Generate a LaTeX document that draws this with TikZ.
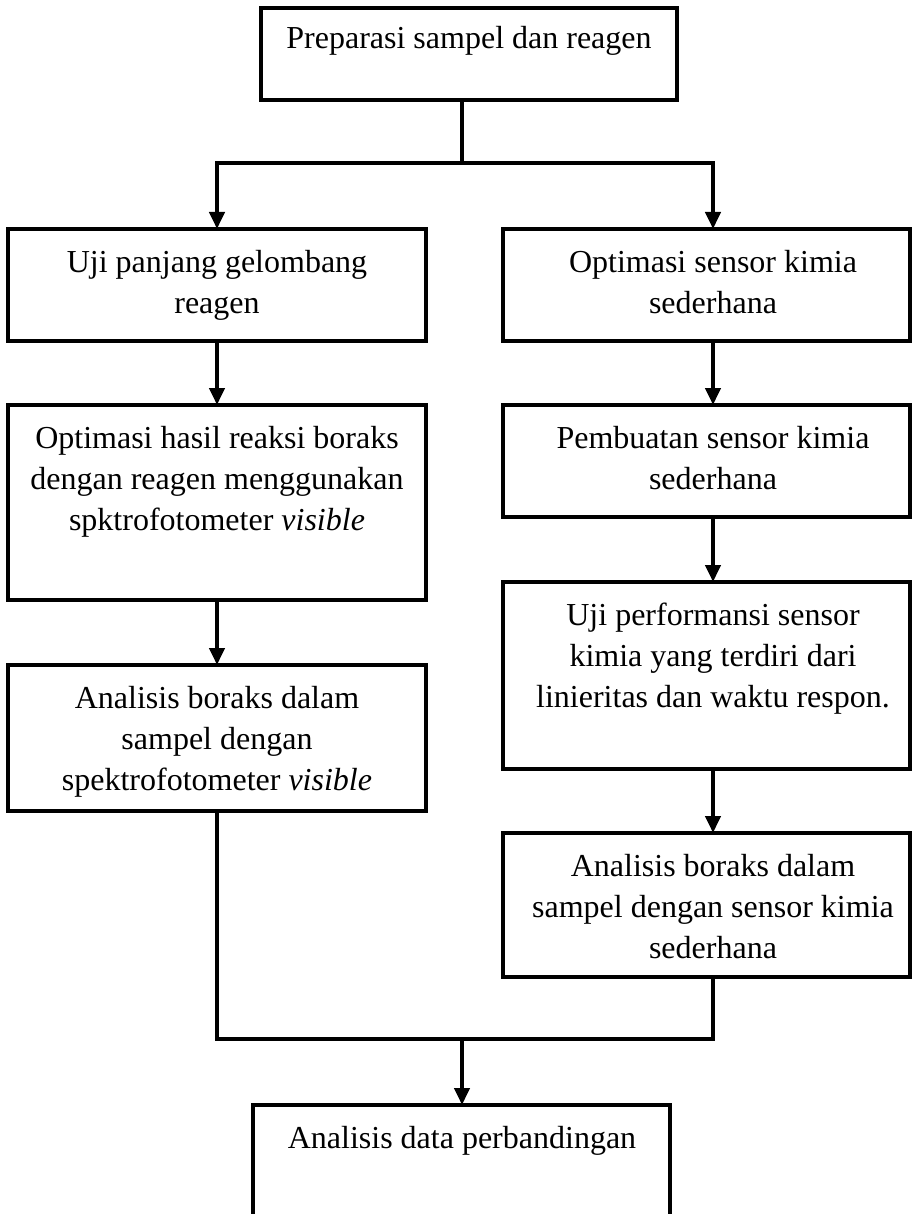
\documentclass[tikz,border=0pt]{standalone}
\usepackage{fontspec}
\setmainfont{Liberation Serif}
\usetikzlibrary{arrows.meta,calc}
\begin{document}
\begin{tikzpicture}[x=1pt,y=-1pt,
  box/.style={draw, line width=4pt, inner sep=0pt, outer sep=0pt, anchor=north west},
  txt/.style={anchor=north, inner sep=0pt, align=center, font=\fontsize{32}{41}\selectfont},
  ln/.style={line width=4pt},
  arr/.style={line width=4pt, -{Triangle[width=15pt,length=17pt]}},
  arrb/.style={line width=4pt, {Triangle[width=15pt,length=17pt]}-{Triangle[width=15pt,length=17pt]}}
]
\useasboundingbox (0,0) rectangle (912,1214);
\clip (0,0) rectangle (912,1214);
\fill[white] (0,0) rectangle (912,1214);

% boxes
\node[box, minimum width=416pt, minimum height=92pt] (T) at (261,8) {};
\node[box, minimum width=418pt, minimum height=112pt] (L1) at (8,229) {};
\node[box, minimum width=418pt, minimum height=195pt] (L2) at (8,405) {};
\node[box, minimum width=418pt, minimum height=146pt] (L3) at (8,665) {};
\node[box, minimum width=407pt, minimum height=112pt] (R1) at (503,229) {};
\node[box, minimum width=407pt, minimum height=112pt] (R2) at (503,405) {};
\node[box, minimum width=407pt, minimum height=187pt] (R3) at (503,582) {};
\node[box, minimum width=407pt, minimum height=144pt] (R4) at (503,833) {};
\node[box, minimum width=417pt, minimum height=140pt] (B) at (253,1105) {};

% texts
\node[txt] (Tt) at (469,20) {\strut Preparasi sampel dan reagen};
\node[txt] (L1t) at (217,244) {\strut Uji panjang gelombang\\reagen};
\node[txt] (L2t) at (217,420) {\strut Optimasi hasil reaksi boraks\\dengan reagen menggunakan\\spktrofotometer \textit{visible}};
\node[txt] (L3t) at (217,680) {\strut Analisis boraks dalam\\sampel dengan\\spektrofotometer \textit{visible}};
\node[txt] (R1t) at (713,244) {\strut Optimasi sensor kimia\\sederhana};
\node[txt] (R2t) at (713,420) {\strut Pembuatan sensor kimia\\sederhana};
\node[txt] (R3t) at (713,597) {\strut Uji performansi sensor\\kimia yang terdiri dari\\linieritas dan waktu respon.};
\node[txt] (R4t) at (713,848) {\strut Analisis boraks dalam\\sampel dengan sensor kimia\\sederhana};
\node[txt] (Bt) at (462,1120) {\strut Analisis data perbandingan};

% connectors
\coordinate (sp) at (462,163);
\coordinate (rx) at (713,0);
\coordinate (mg) at (462,1039);
\draw[ln] (T.south -| sp) -- (sp);
\draw[arrb] (L1.north) |- (sp) -| (R1.north -| rx);
\draw[arr] (L1.south) -- (L2.north);
\draw[arr] (L2.south) -- (L3.north);
\draw[arr] (R1.south -| rx) -- (R2.north -| rx);
\draw[arr] (R2.south -| rx) -- (R3.north -| rx);
\draw[arr] (R3.south -| rx) -- (R4.north -| rx);
\draw[ln] (L3.south) |- (mg) -| (R4.south -| rx);
\draw[arr] (mg) -- (B.north -| mg);
\end{tikzpicture}
\end{document}
